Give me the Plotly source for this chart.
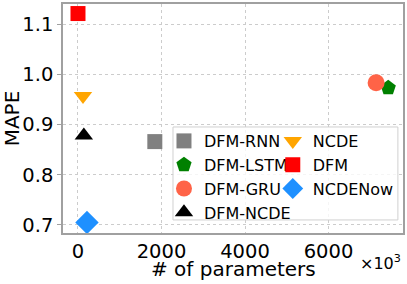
import plotly.graph_objects as go

models = ["DFM-RNN", "DFM-LSTM", "DFM-GRU", "DFM-NCDE", "NCDE", "DFM", "NCDENow"]
params_k = [1840, 7430, 7140, 140, 120, 0, 215]
mape = [0.866, 0.973, 0.983, 0.878, 0.957, 1.121, 0.705]
symbols = ["square", "pentagon", "circle", "triangle-up", "triangle-down", "square", "diamond"]
colors = ["#808080", "#008000", "#ff6347", "#000000", "#ffa500", "#ff0000", "#1e90ff"]
sizes = [15, 16, 17, 16, 16, 15, 18]
legend_col = ["legend", "legend", "legend", "legend", "legend2", "legend2", "legend2"]

fig = go.Figure()
for i, m in enumerate(models):
    fig.add_trace(go.Scatter(
        x=[params_k[i]], y=[mape[i]], mode="markers", name=m,
        marker=dict(symbol=symbols[i], color=colors[i], size=sizes[i], line=dict(width=0)),
        legend=legend_col[i],
    ))

font = "DejaVu Sans, Arial, sans-serif"
leg_common = dict(
    orientation="v", yanchor="top", xanchor="left",
    font=dict(size=16, family=font), bgcolor="rgba(0,0,0,0)",
    borderwidth=0, itemsizing="trace", tracegroupgap=0,
)
fig.update_layout(
    width=407, height=284,
    margin=dict(l=63, r=4, t=4, b=51),
    plot_bgcolor="white", paper_bgcolor="white",
    font=dict(family=font, color="black"),
    showlegend=True,
    legend=dict(x=0.297, y=0.476, **leg_common),
    legend2=dict(x=0.617, y=0.476, **leg_common),
    shapes=[dict(
        type="rect", xref="paper", yref="paper", x0=0.3235, x1=0.985, y0=0.057, y1=0.463,
        fillcolor="rgba(255,255,255,0.8)", line=dict(color="#d0d0d0", width=1), layer="above",
    )],
    xaxis=dict(
        range=[-359, 7784], tickvals=[0, 2000, 4000, 6000],
        ticktext=["0", "2000", "4000", "6000"], automargin=False,
        showgrid=True, gridcolor="#cccccc", griddash="dot", gridwidth=1,
        showline=True, linecolor="#a0a0a0", linewidth=1.5, mirror=True,
        ticks="",
        tickfont=dict(size=19.5), zeroline=False,
    ),
    yaxis=dict(
        range=[0.684, 1.14], tickvals=[0.7, 0.8, 0.9, 1.0, 1.1],
        ticktext=["0.7", "0.8", "0.9", "1.0", "1.1"], automargin=False,
        showgrid=True, gridcolor="#cccccc", griddash="dot", gridwidth=1,
        showline=True, linecolor="#a0a0a0", linewidth=1.5, mirror=True,
        ticks="outside", ticklen=4, tickcolor="#a0a0a0",
        tickfont=dict(size=19.5), zeroline=False,
        title=dict(text="MAPE", font=dict(size=20), standoff=4),
    ),
    annotations=[
        dict(
            text="# of parameters", xref="paper", yref="paper", x=0.5, y=-0.158,
            xanchor="center", yanchor="middle", showarrow=False,
            font=dict(size=20, family=font),
        ),
        dict(
            text="×10<sup>3</sup>", xref="paper", yref="paper", x=1.0, y=-0.13,
            xanchor="right", yanchor="middle", showarrow=False,
            font=dict(size=16, family=font),
        ),
    ],
)

fig.write_html("out.html", config={"displayModeBar": False},
               post_script="document.body.style.margin='0';")
